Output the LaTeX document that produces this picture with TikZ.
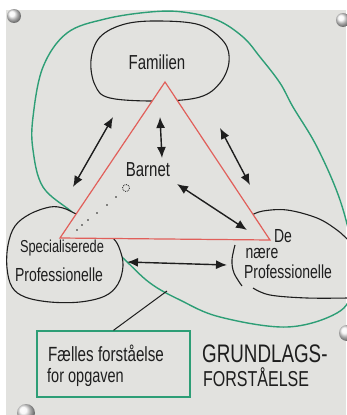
\documentclass[tikz,border=0pt]{standalone}
\usepackage{fontspec}
\setmainfont{Liberation Sans}
\usetikzlibrary{arrows.meta}
\definecolor{paper}{RGB}{226,226,223}
\definecolor{ink}{RGB}{30,30,30}
\definecolor{mred}{RGB}{225,95,90}
\definecolor{mgreen}{RGB}{45,158,118}
\newcommand\hw[1]{\scalebox{1}[1.35]{#1}}
\begin{document}
\begin{tikzpicture}[x=1pt,y=-1pt,
  hand/.style={font=\fontsize{14}{16}\selectfont, text=ink, inner sep=0pt},
  inkline/.style={draw=ink, line width=1.1pt},
  twoway/.style={draw=ink, line width=1.4pt, {Latex[length=11pt,width=9pt]}-{Latex[length=11pt,width=9pt]}},
  pin/.style={ball color=white!92!gray},
  inkdot/.style={fill=ink}]
\useasboundingbox (0,0) rectangle (346,415);
% paper
\fill[white] (0,0) rectangle (346,415);
\fill[paper] (6,10) rectangle (346,415);
% pins
\shade[pin] (14,16) circle (7);
\shade[pin] (343,20) circle (7);
\shade[pin] (347,333) circle (8);
\shade[pin] (26,413) circle (9);
% green loop
\draw[mgreen, line width=1.4pt] plot[smooth cycle, tension=0.6] coordinates {
  (150,12) (183,12) (217,20) (243,37) (260,57) (280,83) (293,107) (317,147)
  (340,200) (352,250) (352,290) (337,313) (287,327) (220,317) (180,300)
  (150,283) (123,258) (95,232) (72,212) (43,187) (33,150) (33,117) (43,67)
  (67,33) (105,19) };
\coordinate (gtap) at (167,291);
% Specialiserede ellipse
\filldraw[fill=paper, inkline] plot[smooth cycle, tension=0.6] coordinates {
  (113,238) (120,250) (123,266) (118,284) (105,296) (80,302) (50,302)
  (25,297) (12,287) (7,268) (8,245) (15,226) (30,214) (50,207) (63,208)
  (72,212) (95,224) };
% Familien ellipse
\draw[inkline] plot[smooth cycle, tension=0.6] coordinates {
  (160,21) (200,25) (224,42) (229,62) (220,83) (200,97) (160,101)
  (110,98) (95,85) (91,60) (100,37) (125,24) };
% De naere ellipse pieces
\draw[inkline] plot[smooth, tension=0.6] coordinates {
  (252,215) (263,211) (287,210) (317,218) (337,230) (348,240) };
\draw[inkline] plot[smooth, tension=0.6] coordinates {
  (253,288) (270,295) (307,298) (348,298) };
\draw[inkline] plot[smooth, tension=0.6] coordinates {
  (235,245) (232,260) (234,273) (242,286) };
% red triangle
\filldraw[fill=paper, draw=mred, line width=1.2pt]
  (165,82) coordinate (apex) -- (60,238) coordinate (bl) -- (270,240) coordinate (br) -- cycle;
% arrow end points
\coordinate (a1s) at (73,187);  \coordinate (a1e) at (113,117);
\coordinate (a2s) at (160,117); \coordinate (a2e) at (162,158);
\coordinate (a3s) at (220,128); \coordinate (a3e) at (250,185);
\coordinate (a4s) at (177,184); \coordinate (a4e) at (247,230);
\coordinate (a5s) at (127,262); \coordinate (a5e) at (227,265);
\draw[twoway] (a1s) -- (a1e);
\draw[twoway] (a2s) -- (a2e);
\draw[twoway] (a3s) -- (a3e);
\draw[twoway] (a4s) -- (a4e);
\draw[twoway] (a5s) -- (a5e);
% dotted trail
\draw[ink, densely dotted, line width=0.8pt] (126,188) circle (3.5);
\foreach \p in {(116,197),(107,205),(97,213),(88,220),(82,225),(77,230)}
  \fill[inkdot] \p circle (0.9);
% texts
\node[hand, font=\fontsize{15}{17}\selectfont] (familien) at (157,62) {\hw{Familien}};
\node[hand, font=\fontsize{15}{17}\selectfont] (barnet) at (148,170) {\hw{Barnet}};
\node[hand, font=\fontsize{12.8}{15}\selectfont] (spec1) at (62,248) {\hw{Specialiserede}};
\node[hand] (spec2) at (59,275) {\hw{Professionelle}};
\node[hand] (de1) at (283,236) {\hw{De}};
\node[hand] (de2) at (262,254) {\hw{nære}};
\node[hand] (de3) at (288,272) {\hw{Professionelle}};
% box
\node[draw=mgreen, line width=1.4pt, minimum width=153pt, minimum height=66pt, inner sep=0pt] (box) at (113.5,364) {};
\node[hand, font=\fontsize{15.2}{17}\selectfont, anchor=west] (f1) at (48,353) {\hw{Fælles forståelse}};
\node[hand, font=\fontsize{14.5}{17}\selectfont, anchor=west] (f2) at (47,377) {\hw{for opgaven}};
\draw[inkline, line width=1pt] (gtap) -- (box.north);
\node[hand, font=\fontsize{18.8}{21}\selectfont, anchor=west] (g1) at (202,354) {\hw{GRUNDLAGS-}};
\node[hand, font=\fontsize{16}{19}\selectfont, anchor=west] (g2) at (203,377) {\hw{FORSTÅELSE}};
\end{tikzpicture}
\end{document}
